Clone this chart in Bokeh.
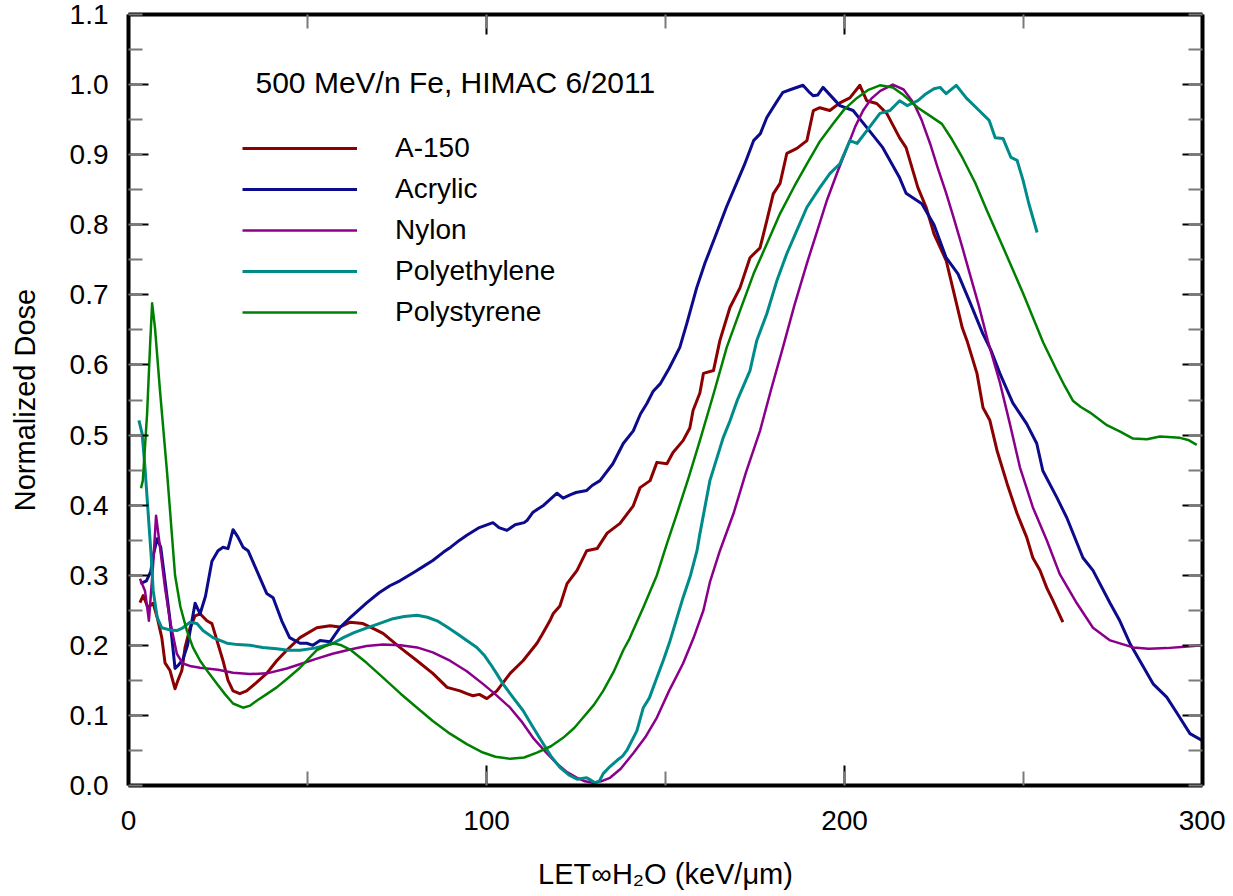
from bokeh.plotting import figure
from bokeh.models import (Range1d, LinearAxis, SingleIntervalTicker, Legend, LegendItem,
                          Label, PrintfTickFormatter, CustomJSTickFormatter)
from bokeh.embed import file_html
from bokeh.resources import INLINE

# ---------------- data ----------------
a150_x = [3.2, 4.1, 5.4, 6.9, 8.0, 9.3, 10.2, 11.6, 13.0, 13.8, 14.9, 15.8, 17.2, 18.6, 20.0, 21.9,
          23.3, 24.7, 26.4, 27.8, 29.2, 31.1, 33.0, 35.8, 38.6, 41.4, 44.2, 47.9, 52.6, 56.3, 59.0,
          61.9, 65.5, 68.0, 71.1, 75.8, 80.6, 85.0, 89.0, 92.6, 94.5, 96.2, 98.0, 100.1, 102.9,
          106.6, 110.2, 114.1, 115.5, 117.7, 118.6, 120.5, 122.5, 125.3, 128.0, 130.9, 133.7,
          137.3, 141.0, 142.9, 145.7, 147.6, 150.4, 152.1, 154.9, 156.8, 157.7, 159.6, 160.6,
          163.4, 165.2, 168.0, 170.8, 173.6, 176.4, 178.3, 180.1, 182.0, 183.9, 186.7, 189.5,
          191.3, 193.1, 195.9, 198.7, 201.5, 204.3, 206.2, 209.0, 211.8, 215.4, 217.2, 220.5,
          222.8, 225.0, 228.4, 230.6, 232.9, 234.2, 237.0, 238.7, 240.6, 242.6, 245.4, 248.2,
          250.9, 252.6, 254.6, 256.5, 258.2, 261.0]
a150_y = [0.261, 0.271, 0.254, 0.260, 0.240, 0.211, 0.175, 0.164, 0.138, 0.150, 0.164, 0.197, 0.225,
          0.242, 0.245, 0.235, 0.231, 0.207, 0.178, 0.150, 0.135, 0.131, 0.135, 0.147, 0.160, 0.178,
          0.193, 0.211, 0.225, 0.228, 0.226, 0.233, 0.231, 0.225, 0.217, 0.197, 0.178, 0.160, 0.140,
          0.135, 0.131, 0.128, 0.130, 0.124, 0.135, 0.160, 0.178, 0.203, 0.215, 0.235, 0.245, 0.256,
          0.288, 0.307, 0.335, 0.338, 0.360, 0.374, 0.399, 0.425, 0.435, 0.461, 0.459, 0.475, 0.492,
          0.510, 0.535, 0.560, 0.588, 0.592, 0.635, 0.682, 0.710, 0.753, 0.767, 0.806, 0.844, 0.859,
          0.902, 0.909, 0.920, 0.963, 0.967, 0.963, 0.974, 0.981, 0.999, 0.977, 0.973, 0.959, 0.924,
          0.910, 0.853, 0.825, 0.787, 0.749, 0.702, 0.653, 0.635, 0.588, 0.539, 0.521, 0.478, 0.431,
          0.388, 0.354, 0.325, 0.307, 0.282, 0.264, 0.233]

acrylic_x = [3.3, 5.0, 6.2, 7.0, 8.0, 9.0, 10.0, 11.5, 13.0, 14.0, 15.2, 16.5, 18.6, 20.0, 21.5, 23.3,
             25.0, 26.4, 27.8, 29.2, 30.5, 32.0, 33.4, 35.8, 38.6, 40.4, 42.8, 45.0, 47.9, 49.8, 51.5,
             53.5, 56.3, 59.0, 62.0, 66.6, 70.0, 73.0, 75.8, 80.0, 82.5, 85.0, 88.0, 90.0, 92.5, 94.5,
             98.0, 101.8, 103.5, 105.7, 108.0, 110.5, 111.3, 113.0, 116.0, 119.7, 121.4, 123.5, 125.0,
             128.0, 129.5, 131.7, 135.3, 138.2, 141.0, 143.0, 144.8, 146.5, 148.5, 151.0, 154.0,
             156.0, 158.7, 161.0, 164.4, 167.0, 169.0, 172.0, 174.6, 176.5, 178.3, 181.0, 182.8,
             185.0, 188.4, 190.0, 191.3, 192.5, 194.0, 196.0, 198.7, 202.4, 206.2, 210.7, 215.4,
             217.2, 221.6, 225.0, 228.4, 231.7, 235.0, 238.6, 241.0, 243.4, 247.0, 250.9, 253.7,
             255.4, 259.3, 262.1, 266.6, 269.4, 274.2, 276.9, 279.7, 282.5, 286.2, 290.0, 292.9,
             296.5, 300.0]
acrylic_y = [0.288, 0.292, 0.305, 0.330, 0.352, 0.340, 0.300, 0.240, 0.167, 0.172, 0.180, 0.200, 0.260,
             0.245, 0.270, 0.320, 0.335, 0.340, 0.338, 0.365, 0.355, 0.340, 0.335, 0.307, 0.274, 0.268,
             0.235, 0.211, 0.203, 0.203, 0.200, 0.207, 0.205, 0.225, 0.240, 0.261, 0.275, 0.285, 0.292,
             0.305, 0.313, 0.321, 0.333, 0.340, 0.350, 0.357, 0.368, 0.375, 0.368, 0.364, 0.372, 0.375,
             0.378, 0.390, 0.400, 0.417, 0.410, 0.415, 0.418, 0.421, 0.428, 0.435, 0.459, 0.488, 0.506,
             0.530, 0.545, 0.562, 0.573, 0.595, 0.625, 0.660, 0.710, 0.745, 0.790, 0.825, 0.849, 0.885,
             0.920, 0.930, 0.953, 0.975, 0.989, 0.993, 0.999, 0.990, 0.984, 0.985, 0.996, 0.985, 0.970,
             0.963, 0.939, 0.910, 0.867, 0.845, 0.830, 0.800, 0.753, 0.730, 0.690, 0.645, 0.620, 0.588,
             0.546, 0.516, 0.488, 0.449, 0.411, 0.382, 0.325, 0.307, 0.260, 0.235, 0.203, 0.178, 0.145,
             0.126, 0.103, 0.074, 0.064]

nylon_x = [3.2, 4.6, 5.7, 6.9, 7.7, 8.8, 10.2, 11.6, 13.5, 15.2, 17.5, 20.0, 25.0, 29.2, 33.9, 38.7,
           44.2, 48.5, 52.6, 57.0, 61.9, 66.5, 71.1, 76.0, 80.6, 85.0, 89.8, 94.5, 99.0, 102.5, 106.6,
           110.0, 113.0, 116.5, 119.7, 122.5, 125.3, 127.5, 129.8, 132.0, 134.5, 137.5, 141.0, 144.5,
           147.6, 151.0, 154.9, 157.8, 160.6, 162.4, 165.2, 169.0, 172.5, 176.4, 179.5, 182.8, 186.0,
           189.5, 192.3, 195.1, 198.0, 200.7, 203.0, 205.2, 207.5, 210.0, 213.5, 216.5, 219.4, 221.5,
           223.9, 226.0, 228.4, 230.5, 232.9, 235.0, 237.5, 240.0, 243.4, 246.2, 249.0, 252.6, 256.5,
           260.1, 264.9, 269.4, 274.2, 280.6, 285.0, 290.0, 295.0, 300.0]
nylon_y = [0.295, 0.278, 0.235, 0.317, 0.385, 0.340, 0.282, 0.235, 0.188, 0.174, 0.170, 0.168, 0.165,
           0.161, 0.159, 0.160, 0.167, 0.174, 0.181, 0.188, 0.194, 0.199, 0.201, 0.200, 0.197, 0.190,
           0.178, 0.163, 0.145, 0.130, 0.111, 0.090, 0.068, 0.048, 0.031, 0.019, 0.011, 0.006, 0.004,
           0.006, 0.011, 0.024, 0.046, 0.070, 0.097, 0.135, 0.174, 0.210, 0.250, 0.290, 0.335, 0.388,
           0.447, 0.506, 0.565, 0.625, 0.685, 0.745, 0.790, 0.835, 0.875, 0.910, 0.940, 0.963, 0.980,
           0.991, 1.000, 0.993, 0.973, 0.950, 0.916, 0.882, 0.845, 0.810, 0.768, 0.730, 0.685, 0.635,
           0.575, 0.516, 0.454, 0.397, 0.350, 0.302, 0.260, 0.225, 0.207, 0.197, 0.195, 0.196, 0.198,
           0.200]

poly_e_x = [2.9, 3.8, 4.6, 5.5, 6.3, 6.9, 8.0, 9.3, 11.5, 13.5, 15.2, 17.2, 19.1, 20.8, 23.6, 27.5,
            30.5, 33.9, 37.5, 41.4, 44.5, 47.9, 52.0, 57.2, 60.0, 63.0, 66.6, 70.0, 73.9, 77.0, 80.6,
            83.5, 86.2, 89.0, 91.7, 94.5, 97.3, 99.5, 101.0, 102.8, 104.6, 107.5, 110.2, 113.0, 115.8,
            118.0, 120.5, 123.0, 125.3, 128.0, 129.0, 130.3, 131.5, 132.6, 134.5, 136.5, 138.0, 139.2,
            142.0, 143.8, 145.5, 147.6, 149.5, 151.3, 154.9, 157.0, 158.8, 159.6, 162.4, 166.1, 168.0,
            170.0, 173.6, 175.5, 178.3, 181.1, 183.9, 186.7, 189.5, 193.1, 195.9, 198.7, 201.5, 203.5,
            206.2, 209.9, 212.7, 215.4, 217.5, 220.5, 222.8, 225.0, 226.7, 228.4, 231.2, 234.0, 237.6,
            240.4, 242.1, 244.3, 246.5, 248.2, 249.9, 251.5, 253.8]
poly_e_y = [0.521, 0.502, 0.454, 0.388, 0.330, 0.278, 0.240, 0.225, 0.222, 0.221, 0.225, 0.233, 0.231,
            0.221, 0.211, 0.203, 0.201, 0.200, 0.197, 0.195, 0.193, 0.193, 0.196, 0.203, 0.211, 0.218,
            0.225, 0.231, 0.238, 0.241, 0.243, 0.240, 0.235, 0.226, 0.217, 0.207, 0.197, 0.185, 0.174,
            0.160, 0.145, 0.125, 0.107, 0.083, 0.060, 0.042, 0.026, 0.015, 0.009, 0.011, 0.008, 0.004,
            0.006, 0.017, 0.027, 0.036, 0.042, 0.050, 0.078, 0.111, 0.125, 0.154, 0.180, 0.207, 0.268,
            0.300, 0.335, 0.359, 0.435, 0.496, 0.520, 0.549, 0.592, 0.635, 0.673, 0.720, 0.759, 0.792,
            0.825, 0.853, 0.873, 0.887, 0.920, 0.916, 0.934, 0.959, 0.963, 0.977, 0.970, 0.977, 0.987,
            0.994, 0.996, 0.987, 0.999, 0.981, 0.963, 0.949, 0.924, 0.923, 0.896, 0.892, 0.863, 0.830,
            0.789]

poly_s_x = [3.5, 4.0, 5.2, 6.0, 6.6, 7.4, 8.8, 10.8, 13.0, 14.5, 16.3, 18.0, 20.0, 22.5, 24.7, 27.0,
            29.2, 32.0, 34.0, 35.8, 38.5, 41.4, 44.5, 47.9, 50.5, 52.6, 55.0, 57.2, 59.5, 61.9, 66.5,
            71.1, 76.0, 80.6, 85.0, 89.8, 94.5, 99.0, 102.5, 106.6, 110.5, 114.1, 118.0, 121.4, 124.5,
            127.0, 130.0, 132.6, 135.5, 138.2, 140.0, 141.0, 143.8, 147.6, 150.4, 153.2, 156.5, 159.6,
            163.5, 167.1, 171.0, 174.6, 178.5, 182.0, 186.0, 189.5, 193.0, 196.8, 200.0, 203.5, 206.5,
            209.9, 213.5, 216.5, 220.5, 224.0, 227.2, 230.0, 232.9, 236.5, 239.8, 244.3, 249.9, 255.5,
            259.3, 261.5, 263.8, 266.0, 268.6, 273.3, 277.0, 280.6, 284.5, 288.1, 293.7, 296.0, 298.4]
poly_s_y = [0.424, 0.435, 0.531, 0.625, 0.688, 0.653, 0.563, 0.445, 0.300, 0.255, 0.221, 0.197, 0.178,
            0.160, 0.145, 0.130, 0.117, 0.111, 0.114, 0.121, 0.130, 0.140, 0.153, 0.168, 0.182, 0.193,
            0.199, 0.203, 0.200, 0.194, 0.175, 0.154, 0.131, 0.111, 0.092, 0.074, 0.059, 0.047, 0.041,
            0.038, 0.040, 0.047, 0.056, 0.068, 0.082, 0.097, 0.115, 0.135, 0.162, 0.193, 0.210, 0.222,
            0.254, 0.300, 0.345, 0.388, 0.440, 0.492, 0.560, 0.625, 0.680, 0.730, 0.775, 0.816, 0.855,
            0.887, 0.918, 0.944, 0.965, 0.981, 0.992, 0.999, 0.996, 0.985, 0.967, 0.955, 0.944, 0.922,
            0.896, 0.860, 0.820, 0.768, 0.702, 0.632, 0.592, 0.570, 0.549, 0.540, 0.532, 0.514, 0.505,
            0.495, 0.494, 0.498, 0.496, 0.493, 0.486]

series_names = ["A-150", "Acrylic", "Nylon", "Polyethylene", "Polystyrene"]
title_text = "500 MeV/n Fe, HIMAC 6/2011"
x_label = "LET\u221eH\u2082O (keV/\u03bcm)"
y_label = "Normalized Dose"

# ---------------- styling ----------------
FONT = "Liberation Sans"
colors = ["#8b0000", "#0b0b8c", "#8b008b", "#008b8b", "#008000"]
widths = [3, 3, 2.5, 3, 2.5]

p = figure(width=1225, height=894, output_backend="svg", toolbar_location=None,
           x_range=Range1d(0, 300), y_range=Range1d(0, 1.1),
           min_border_left=128, min_border_right=23, min_border_top=14, min_border_bottom=109,
           background_fill_color="white", border_fill_color="white")
p.grid.visible = False
p.outline_line_color = None

xt = SingleIntervalTicker(interval=100, num_minor_ticks=2)
yt = SingleIntervalTicker(interval=0.1, num_minor_ticks=2)


def style_axis(ax, ticker, show_labels):
    ax.ticker = ticker
    ax.axis_line_color = "black"
    ax.axis_line_width = 4
    ax.major_tick_in = 20
    ax.major_tick_out = 0
    ax.minor_tick_in = 14
    ax.minor_tick_out = 0
    ax.major_tick_line_color = "black"
    ax.major_tick_line_width = 2
    ax.minor_tick_line_color = "#7a7a7a"
    ax.minor_tick_line_width = 2
    ax.major_label_text_font = FONT
    ax.major_label_text_color = "black"
    if show_labels:
        ax.major_label_text_font_size = "28px"
    else:
        ax.formatter = CustomJSTickFormatter(code="return ''")
        ax.major_label_standoff = 0


style_axis(p.xaxis[0], xt, True)
style_axis(p.yaxis[0], yt, True)
p.xaxis[0].major_label_standoff = 25
p.yaxis[0].major_label_standoff = 20
p.yaxis[0].formatter = PrintfTickFormatter(format="%.1f")

p.xaxis[0].axis_label = x_label
p.yaxis[0].axis_label = y_label
for ax in (p.xaxis[0], p.yaxis[0]):
    ax.axis_label_text_font = FONT
    ax.axis_label_text_font_style = "normal"
    ax.axis_label_text_color = "black"
p.xaxis[0].axis_label_text_font_size = "29px"
p.yaxis[0].axis_label_text_font_size = "29px"
p.xaxis[0].axis_label_standoff = 25
p.yaxis[0].axis_label_standoff = 26

ax_r = LinearAxis()
style_axis(ax_r, yt, False)
p.add_layout(ax_r, "right")
ax_t = LinearAxis()
style_axis(ax_t, xt, False)
p.add_layout(ax_t, "above")

xs = [a150_x, acrylic_x, nylon_x, poly_e_x, poly_s_x]
ys = [a150_y, acrylic_y, nylon_y, poly_e_y, poly_s_y]
items = []
for name, x, y, c, w in zip(series_names, xs, ys, colors, widths):
    r = p.line(x, y, line_color=c, line_width=w, line_join="round")
    items.append(LegendItem(label=name, renderers=[r]))

legend = Legend(items=items, location=(114, 457), glyph_width=115, glyph_height=30,
                label_height=30, spacing=9, padding=0, margin=0, label_standoff=38,
                border_line_color=None, background_fill_alpha=0,
                label_text_font=FONT, label_text_font_size="28px", label_text_color="black")
p.add_layout(legend)

p.add_layout(Label(x=127, y=703, x_units="screen", y_units="screen", text=title_text,
                   text_font=FONT, text_font_size="30px", text_baseline="middle",
                   text_color="black"))

open("out.html", "w").write(file_html(p, INLINE))
